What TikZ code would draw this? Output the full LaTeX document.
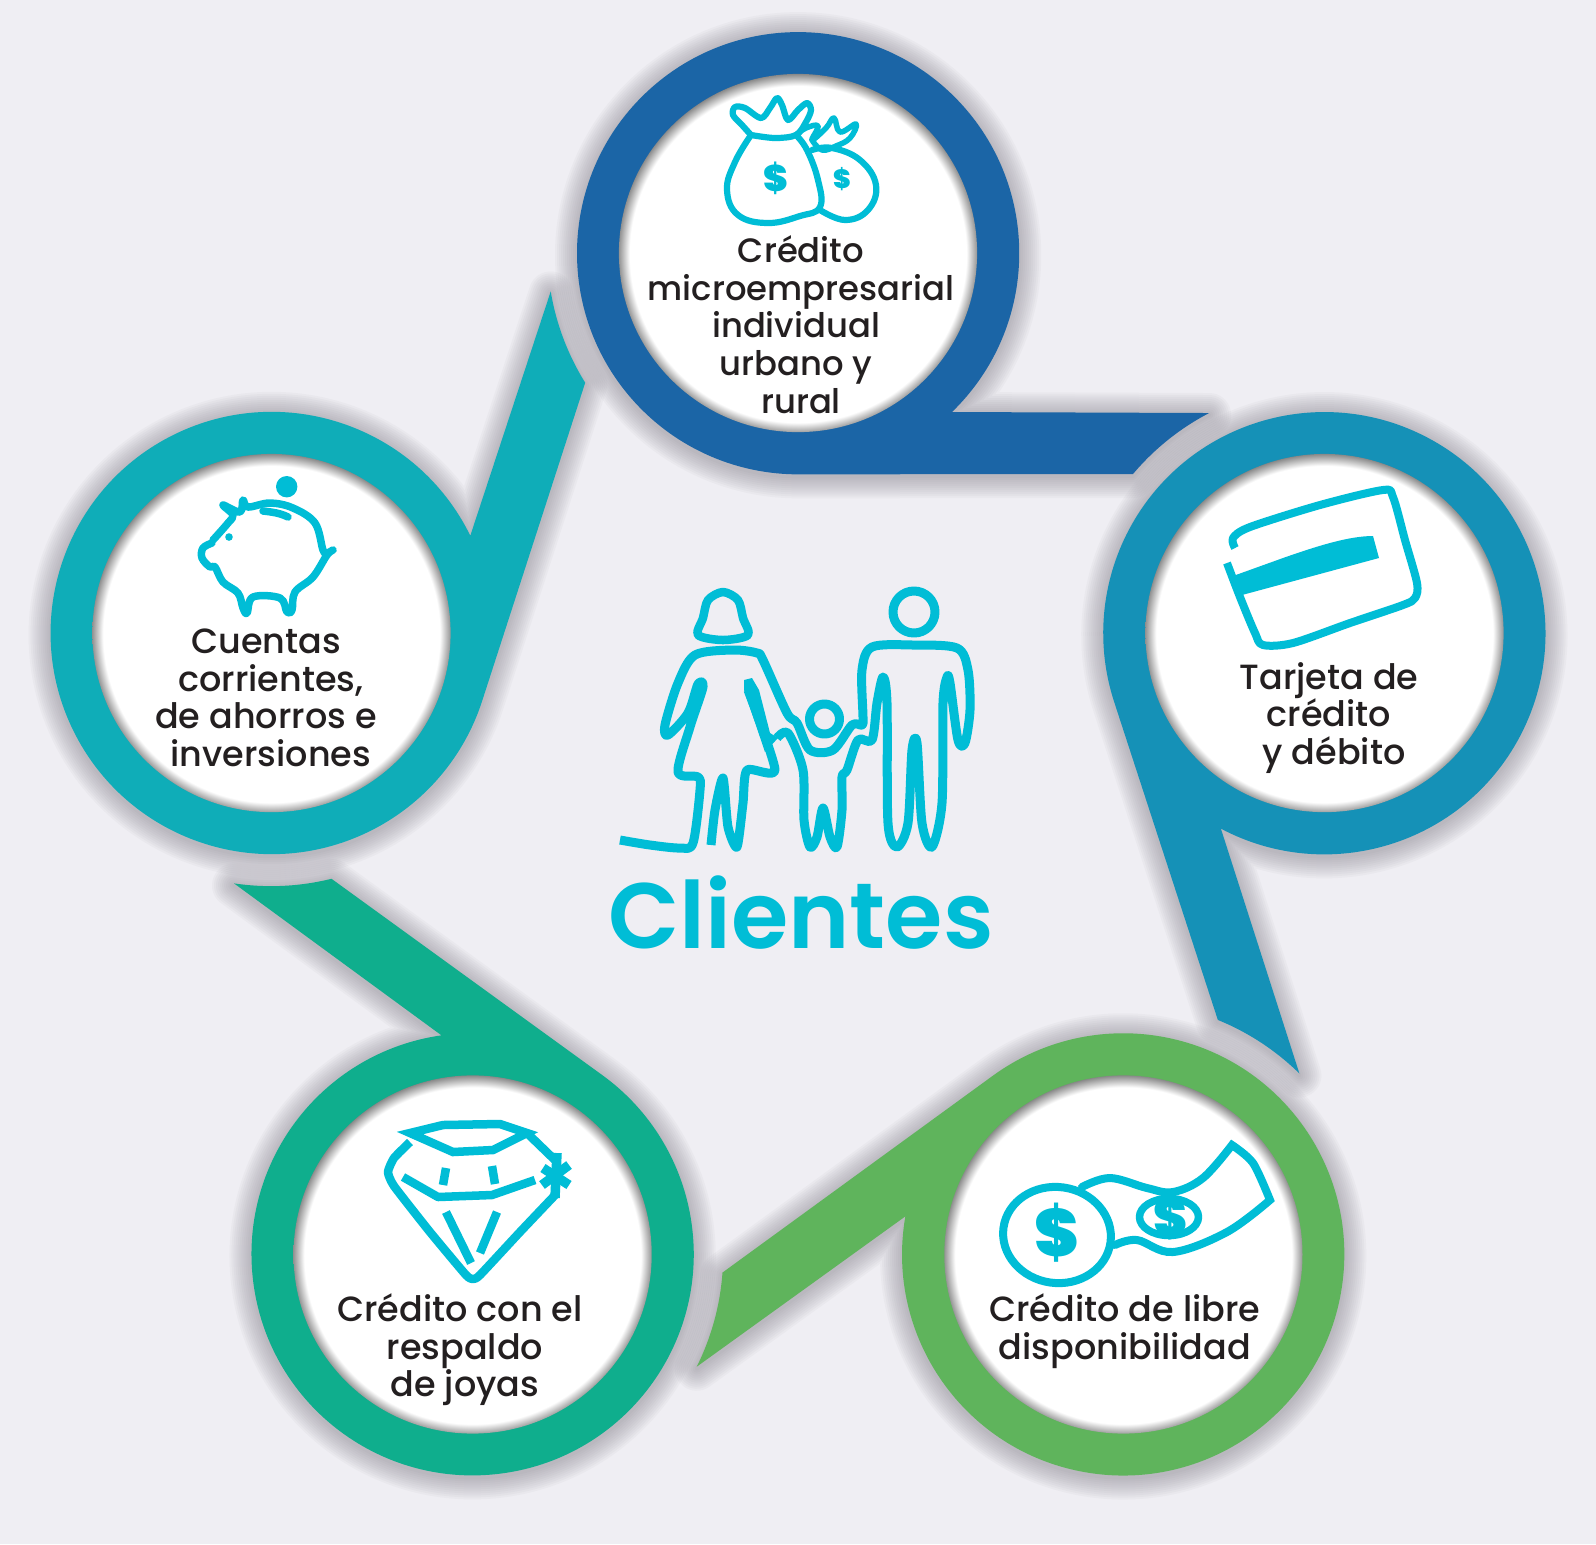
\documentclass[tikz,border=0pt]{standalone}
\usepackage{xcolor}
\usepackage{fontspec}
\setmainfont{Poppins}[UprightFont=* Medium]
\newfontfamily\titlefont{Poppins}[UprightFont=* SemiBold]
\usepackage{tikz}
\definecolor{bgpaper}{HTML}{EFEEF3}
\definecolor{ringnavy}{HTML}{1B65A6}
\definecolor{ringblue}{HTML}{1591B7}
\definecolor{ringgreen}{HTML}{5FB45C}
\definecolor{ringjade}{HTML}{0FAE8D}
\definecolor{ringteal}{HTML}{0FADB8}
\definecolor{iconcyan}{HTML}{00BDD6}
\definecolor{labelink}{HTML}{231F20}
\definecolor{shadegray}{HTML}{807C88}
\pgfdeclareradialshading{hubglow}{\pgfpoint{0bp}{-0.3bp}}{
  color(0bp)=(white); color(23.5bp)=(white); color(25.3bp)=(black!50); color(50bp)=(black!50)}
\newcommand{\ringlist}{0/0/ringnavy/hubmicro, -72/-2.5/ringblue/hubcard, -144/0/ringgreen/hubfree, -216/0/ringjade/hubjewel, -288/-2.5/ringteal/hubsave}
\newcommand{\ringoutline}{(952,412) arc[start angle=-45.9, end angle=270, radius=2.21cm] -- (1133,474)
      arc[start angle=139.9, end angle=117.5, radius=2.51cm] -- cycle}

\begin{document}
\begin{tikzpicture}[
  x=0.01cm, y=-0.01cm,
  hubdisc/.style={circle, minimum size=3.58cm, inner sep=0pt, shading=hubglow},
  iconline/.style={draw=iconcyan, line width=0.075cm, line cap=round, line join=round},
  jewelline/.style={draw=iconcyan, line width=0.085cm, line cap=butt, line join=round},
  familyline/.style={draw=iconcyan, line width=0.09cm, line cap=butt, line join=round},
  dollar/.style={text=iconcyan, inner sep=0pt, font=\titlefont\bfseries},
  caption/.style={align=center, inner sep=0pt, text=labelink, font=\fontsize{9.95}{10.69}\selectfont},
]

\useasboundingbox (0,0) rectangle (1596,1544);
\fill[bgpaper] (0,0) rectangle (1596,1544);

% soft shadows first
\foreach \ang/\dy/\ringcol/\hubname in \ringlist{
  \begin{scope}[shift={(0,\dy+2)}]
    \begin{scope}[rotate around={\ang:(798,806.6)}]
      \foreach \wid in {4,8,...,44}
        \draw[shadegray, opacity=0.05, line width=\wid*0.01cm, line join=round] \ringoutline;
    \end{scope}
  \end{scope}
}

% rings with their tails, turned about the middle
\foreach \ang/\dy/\ringcol/\hubname in \ringlist{
  \begin{scope}[shift={(0,\dy)}]
    \begin{scope}[rotate around={\ang:(798,806.6)}]
      \fill[\ringcol] \ringoutline;
      \node[hubdisc] (\hubname) at (798,253) {};
    \end{scope}
  \end{scope}
}

% captions
\node[caption, font=\fontsize{9.62}{10.69}\selectfont] (microtext) at (801,324.5) {Crédito\\microempresarial\\individual\kern2.8pt\\urbano y\kern2.8pt\\rural};
\node[caption] (cardtext) at (1329,718) {Tarjeta de\\crédito\\\kern2.8pt y débito};
\node[caption] (freetext) at (1125,1331) {Crédito de libre\\disponibilidad};
\node[caption] (jeweltext) at (460,1350) {Crédito con el\\\kern2.8pt respaldo\\\kern2.8pt de joyas};
\node[caption] (savetext) at (266,698) {Cuentas\\\kern2.8pt corrientes,\\de ahorros e\\\kern2.8pt inversiones};
\node[text=iconcyan, inner sep=0pt, font=\titlefont\fontsize{26.4}{30}\selectfont] (clientes) at (801,913) {Clientes};

% money bags
\draw[iconline, line width=0.062cm] plot[smooth, tension=.55] coordinates {(751,135) (742,125) (733,115) (735,107) (745,108) (761,118) (770,108) (777,98) (782,105) (788,120) (798,110) (807,103) (811,110) (806,122) (796,135) (775,138) (751,135)};
\draw[iconline, line width=0.062cm] plot[smooth, tension=.7] coordinates {(751,135) (735,162) (727,190) (738,215) (768,223) (800,216) (820,207) (818,180) (807,150) (796,135)};
\draw[iconline, line width=0.062cm] plot[smooth, tension=.7] coordinates {(812,150) (832,148) (860,160) (876,185) (868,210) (845,220) (820,210)};
\draw[iconline, line width=0.055cm] plot[smooth, tension=.7] coordinates {(796,135) (806,128) (818,126) (812,140) (826,128) (834,118) (840,132) (856,124) (850,138) (836,146) (822,150) (812,140)};
\node[dollar, font=\titlefont\bfseries\fontsize{10.5}{12}\selectfont] (bigbuck) at (775.5,178) {\$};
\node[dollar, font=\titlefont\bfseries\fontsize{7.5}{9}\selectfont] (smallbuck) at (842,179) {\$};

% card
\draw[iconline, line width=0.08cm, line cap=butt] plot[smooth, tension=.5] coordinates {(1235,548) (1233,538) (1250,527) (1320,505) (1383,490) (1393,497) (1405,540) (1417,583) (1415,598) (1403,605) (1350,623) (1293,643) (1263,645) (1255,633) (1240,597) (1227,563)};
\fill[iconcyan] (1233,576) -- (1283,558) .. controls (1320,545) and (1350,536) .. (1373,536) -- (1379,558) -- (1242,595) -- cycle;

% bill
\draw[iconline, line width=0.08cm, rotate around={-8:(1057,1235)}] (1057,1235) ellipse (54 and 48);
\draw[iconline, line width=0.08cm, line join=miter] plot[smooth, tension=.6] coordinates {(1082,1187) (1110,1178) (1147,1188) (1173,1192) (1203,1178) (1232,1145)} -- plot[smooth, tension=.5] coordinates {(1232,1145) (1253,1163) (1270,1200)} -- plot[smooth, tension=.6] coordinates {(1270,1200) (1227,1232) (1173,1252) (1137,1240) (1115,1245)};
\draw[iconline, line width=0.075cm] (1169,1217) ellipse (29.5 and 18.5);
\node[dollar, font=\titlefont\bfseries\fontsize{19}{21}\selectfont] (billbuck) at (1057,1233) {\$};
\node[dollar, font=\titlefont\bfseries\fontsize{14.5}{16}\selectfont] (eyebuck) at (1170,1217) {\$};

% jewel
\draw[jewelline, line join=miter] (410,1133) -- (443,1125) -- (500,1124) -- (527,1133) -- (493,1150) -- (453,1152) -- cycle;
\draw[jewelline] plot[smooth, tension=.3] coordinates {(410,1142) (394,1158) (388,1172) (394,1186) (430,1232) (466,1275) (473,1279) (480,1275) (520,1232) (557,1193)};
\draw[jewelline] (527,1133) -- (557,1162);
\draw[jewelline] (403,1177) -- (438,1197) -- (492,1195) -- (535,1180);
\draw[jewelline] (446,1168) -- (443,1185);
\draw[jewelline] (492,1166) -- (495,1184);
\draw[jewelline] (446,1212) -- (471,1263);
\draw[jewelline] (497,1212) -- (480,1253);
\draw[jewelline, line width=0.095cm] (557,1153) -- (555,1198);
\draw[jewelline, line width=0.095cm] (569,1165) -- (542,1185);
\draw[jewelline, line width=0.095cm] (543,1168) -- (569,1185);

% piggy bank
\fill[iconcyan] (286.7,486.7) circle (10.7);
\draw[iconline] plot[smooth, tension=.6] coordinates {(212,543) (203,548) (202,558) (210,567) (215,567) (223,582) (238,593) (243,608) (247,613) (253,597) (280,598) (287,612) (292,610) (295,592) (313,577) (327,555) (333,550) (327,553) (323,550) (315,523) (293,508) (270,503) (248,507) (243,500) (240,512) (223,505) (233,515) (228,523) (213,540)};
\fill[iconcyan] (229,537) circle (3.8);
\draw[iconline] (263,511) .. controls (272,512) and (280,513) .. (288,517);

% family
\draw[iconline, line width=0.085cm] plot[smooth cycle, tension=.5] coordinates {(698,635) (703,618) (708,600) (723,592) (738,600) (743,618) (748,635) (723,640)};
\draw[familyline] (914,612) circle (21);
\draw[familyline] (824.5,719) circle (15);
\draw[familyline] plot[smooth, tension=.5] coordinates {(620,840) (650,845) (680,848) (693,843) (700,790) (698,777) (678,772) (690,727) (703,687) (698,684) (688,713) (668,735) (665,725) (678,683) (695,655) (733,650) (757,653) (763,660) (787,713) (797,723) (810,750) (833,750) (852,725) (862,725) (863,717) (862,670) (872,647) (913,645) (957,648) (968,670) (970,710) (965,743) (958,740) (950,683) (947,677) (943,703) (942,803) (932,847) (922,823) (917,743) (912,750) (908,823) (897,847) (888,823) (887,703) (883,677) (877,703) (872,740) (858,740) (847,770) (842,777) (842,810) (837,847) (830,837) (823,808) (817,837) (810,847) (804,820) (803,770) (788,733) (777,738)};
\fill[iconcyan] (778,738) -- (770,733) -- (759,690) -- (752,678) -- (744,680) -- (744,690) -- (765,752) -- cycle;
\draw[familyline] plot[smooth, tension=.4] coordinates {(748,690) (775,770) (747,770) (743,803) (737,847) (728,827) (723,778) (715,810) (711,845)};

\end{tikzpicture}
\end{document}
